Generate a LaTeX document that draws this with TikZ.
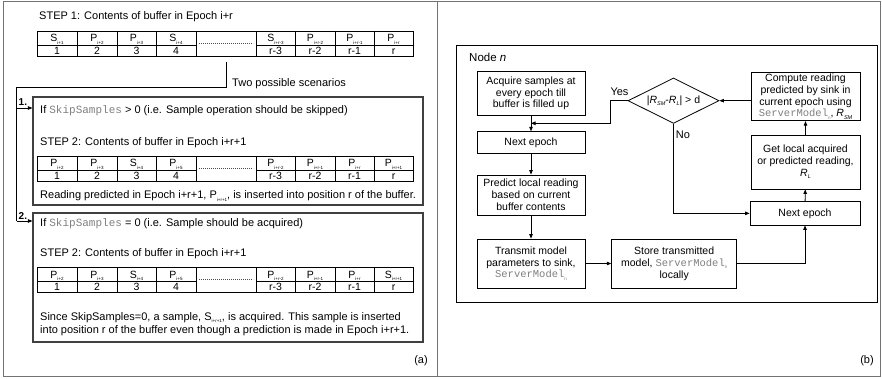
\documentclass[tikz,border=0pt]{standalone}
\usepackage{fontspec}
\setmainfont{Liberation Sans}
\setmonofont{Liberation Mono}
\usetikzlibrary{arrows.meta,shapes.geometric}
\definecolor{monogray}{gray}{0.5}
\definecolor{framegray}{gray}{0.45}
\newcommand\subx[1]{\raisebox{-0.45ex}{\fontsize{4.5}{5}\selectfont #1}}
\newcommand\subi[1]{\raisebox{-0.45ex}{\fontsize{5.5}{6}\selectfont\itshape #1}}
\newcommand\smodel{\textcolor{monogray}{\texttt{ServerModel}\subx{n}}}
\newcommand\skips{\textcolor{monogray}{\texttt{SkipSamples}}}
\newcommand\buftable[3]{%
  \draw[tbl] (37,#2) rectangle (413,#2+25);
  \foreach \xx in {77,117,156,196,256,295,335,374} {\draw[tbl] (\xx,#2) -- (\xx,#2+25);}
  \draw[tbl] (37,#2+14) -- (196,#2+14) (256,#2+14) -- (413,#2+14);
  \draw[dotln] (199,#2+12.5) -- (253,#2+12.5);
  \foreach \lab [count=\i] in {#3} {
    \pgfmathsetmacro\cx{{57,97,136.5,176,275.5,315,354.5,393.5}[\i-1]}
    \node[cell] (#1top\i) at (\cx,#2+11) {\lab};
  }
  \foreach \num [count=\i] in {1,2,3,4,r-3,r-2,r-1,r} {
    \pgfmathsetmacro\cx{{57,97,136.5,176,275.5,315,354.5,393.5}[\i-1]}
    \node[cell] (#1num\i) at (\cx,#2+23.5) {\num};
  }
}
\begin{document}
\begin{tikzpicture}[x=1pt,y=-1pt,
  tbl/.style={line width=0.9pt},
  dotln/.style={line width=0.7pt, dash pattern=on 0.7pt off 1.3pt, black!70},
  cell/.style={inner sep=0, anchor=base, font=\fontsize{10.5}{12}\selectfont},
  txt/.style={inner sep=0, anchor=base west, font=\fontsize{11}{13}\selectfont},
  lbl/.style={inner sep=0, font=\fontsize{11}{13}\selectfont},
  scen/.style={draw=black!75, line width=1.1pt, inner sep=0},
  fbox/.style={draw, line width=0.8pt, inner sep=0, align=center, font=\fontsize{10.5}{11.8}\selectfont},
  arr/.style={-{Triangle[length=4.5pt,width=3.5pt]}, line width=0.8pt},
  conn/.style={line width=0.8pt},
]
\useasboundingbox (0,0) rectangle (882,379);
\fill[white] (0,0) rectangle (882,379);
% outer frame
\draw[framegray, line width=0.9pt] (3.5,1.5) rectangle (880.5,376.5);
\draw[framegray, line width=0.9pt] (437.7,1.5) -- (437.7,376.5);

% ---------- panel (a)
\node[txt] (step1) at (39,20) {STEP 1: Contents of buffer in Epoch i+r};
\buftable{a}{31}{S\subx{i+1},P\subx{i+2},P\subx{i+3},S\subx{i+4},S\subx{i+r-3},P\subx{i+r-2},P\subx{i+r-1},P\subx{i+r}}
\node[txt] (two) at (232,87) {Two possible scenarios};
\node[scen, minimum width=390, minimum height=108] (box1) at (228,151) {};
\node[scen, minimum width=390, minimum height=129] (box2) at (228,277.5) {};
\coordinate (c0) at (226.7,62);
\coordinate (c1) at (16.7,87);
\coordinate (c2) at (16.7,108);
\coordinate (c3) at (16.7,221);
\draw[conn] (c0) |- (c1) -- (c3);
\draw[arr] (c2) -- (box1.west |- c2);
\draw[arr] (c3) -- (box2.west |- c3);
\node[txt, font=\fontsize{10}{12}\selectfont\bfseries] (one) at (18.5,106) {1.};
\node[txt, font=\fontsize{10}{12}\selectfont\bfseries] (twol) at (18.5,219) {2.};

\node[txt] (if1) at (40,114) {If \skips{} > 0 (i.e. Sample operation should be skipped)};
\node[txt] (s2a) at (40,146) {STEP 2: Contents of buffer in Epoch i+r+1};
\buftable{b}{156}{P\subx{i+2},P\subx{i+3},S\subx{i+4},P\subx{i+5},P\subx{i+r-2},P\subx{i+r-1},P\subx{i+r},P\subx{i+r+1}}
\node[txt] (rd) at (40,199) {Reading predicted in Epoch i+r+1, P\subx{i+r+1}, is inserted into position r of the buffer.};

\node[txt] (if2) at (40,226) {If \skips{} = 0 (i.e. Sample should be acquired)};
\node[txt] (s2b) at (40,256) {STEP 2: Contents of buffer in Epoch i+r+1};
\buftable{c}{267}{P\subx{i+2},P\subx{i+3},S\subx{i+4},P\subx{i+5},P\subx{i+r-2},P\subx{i+r-1},P\subx{i+r},S\subx{i+r+1}}
\node[txt] (since) at (40,320) {Since SkipSamples=0, a sample, S\subx{i+r+1}, is acquired. This sample is inserted};
\node[txt] (into) at (40,333) {into position r of the buffer even though a prediction is made in Epoch i+r+1.};
\node[lbl] (la) at (421,361) {(a)};

% ---------- panel (b)
\node[draw, line width=0.9pt, minimum width=421, minimum height=257, inner sep=0] (nodebox) at (666.5,173.5) {};
\node[txt, font=\fontsize{11.5}{13}\selectfont] (nodelab) at (469,62) {Node \textit{n}};

\node[fbox, minimum width=108, minimum height=43.3] (acq) at (531,93.35) {Acquire samples at\\every epoch till\\buffer is filled up};
\node[fbox, minimum width=108, minimum height=21.3] (nextL) at (531,142.35) {Next epoch};
\node[fbox, minimum width=108, minimum height=40] (pred) at (531,195) {Predict local reading\\based on current\\buffer contents};
\node[fbox, minimum width=108, minimum height=49] (trans) at (531,263.5) {Transmit model\\parameters to sink,\\\smodel};
\node[fbox, minimum width=125, minimum height=49] (store) at (674.2,263.5) {Store transmitted\\model, \smodel\\locally};
\node[diamond, draw, line width=0.8pt, aspect=2, inner sep=0, minimum width=91, minimum height=45.4, font=\fontsize{10.5}{12}\selectfont] (dia) at (673.5,100.7) {|\textit{R}\subi{SM}-\textit{R}\subi{L}| > d};
\node[fbox, minimum width=109, minimum height=48] (comp) at (805.5,96.7) {Compute reading\\predicted by sink in\\current epoch using\\\smodel, \textit{R}\subi{SM}};
\node[fbox, minimum width=109, minimum height=54] (getl) at (805.5,162) {Get local acquired\\or predicted reading,\\\textit{R}\subi{L}};
\node[fbox, minimum width=110, minimum height=23.3] (nextR) at (805,213.35) {Next epoch};

\draw[arr] (acq) -- (nextL);
\draw[arr] (nextL) -- (pred);
\draw[arr] (pred) -- (trans);
\draw[arr] (trans) -- (store);
\draw[arr] (store.east) -| (nextR.south);
\draw[arr] (nextR) -- (getl);
\draw[arr] (getl) -- (comp);
\draw[arr] (comp.west |- dia.east) -- (dia.east);
\coordinate (ycorner) at (610.7,100.7);
\coordinate (yend) at (531,123.3);
\draw[arr] (dia.west) -- (ycorner) |- (yend);
\draw[arr] (dia.south) |- (nextR.west);
\node[lbl] (yes) at (619.5,92) {Yes};
\node[lbl] (no) at (683,135) {No};
\node[lbl] (lb) at (867,361) {(b)};
\end{tikzpicture}
\end{document}
